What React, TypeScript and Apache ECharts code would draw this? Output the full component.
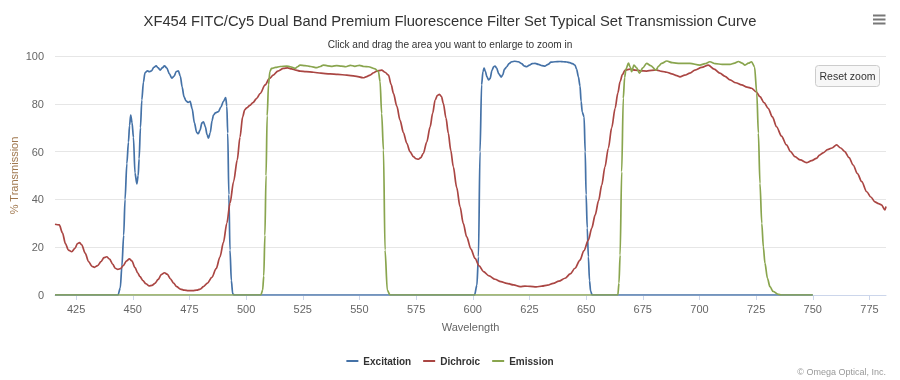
import React, { useEffect, useRef } from "react";
import * as echarts from "echarts";

const TITLE = "XF454 FITC/Cy5 Dual Band Premium Fluorescence Filter Set Typical Set Transmission Curve";
const SUBTITLE = "Click and drag the area you want to enlarge to zoom in";
const X_NAME = "Wavelength";
const Y_NAME = "% Transmission";
const CREDITS = "© Omega Optical, Inc.";
const X_TICKS = [425, 450, 475, 500, 525, 550, 575, 600, 625, 650, 675, 700, 725, 750, 775];
const SERIES_NAMES = ["Excitation", "Dichroic", "Emission"];

const excitation: number[][] = [
  [415.7, 0], [443.5, 0], [444.5, 3], [445.2, 12], [446, 25], [446.6, 40], [447.4, 55], [448.1, 64], [448.6, 71], [449.1, 75.3],
  [449.7, 72], [450.3, 66], [451, 51], [451.8, 46.5], [452.4, 50], [452.8, 57], [453.4, 70], [454, 81.6], [454.7, 89], [455.4, 93],
  [456.5, 93.8], [457.3, 93.4], [458.3, 93.8], [459.3, 95.3], [460.3, 95.9], [461.2, 95], [462.1, 94.1], [463, 95], [464, 95.9], [465, 95],
  [466.2, 92.5], [467.2, 90.7], [468.2, 91.5], [469.2, 93.5], [470.1, 93.8], [471, 91.5], [471.8, 87], [472.6, 83], [473.5, 81.2], [474.4, 80.6],
  [475.3, 81], [476.2, 78], [477.2, 72], [478.2, 68], [478.9, 67.5], [479.7, 69], [480.5, 72], [481.2, 72.5], [482, 70.5], [482.8, 67],
  [483.4, 65.6], [484.2, 68], [485, 73], [485.6, 75.3], [486.5, 76.2], [487.8, 76.7], [488.8, 78.5], [490, 81], [491, 82.6], [491.5, 79],
  [491.9, 67.7], [492.4, 42], [492.9, 18.8], [493.5, 6], [494.1, 0.5], [494.8, 0],
  [600.8, 0], [601.8, 4], [602.5, 16], [603.2, 60], [603.9, 88], [604.5, 93.5], [605, 94.9], [605.6, 93.5], [606.2, 91.4], [607, 90],
  [607.6, 90.5], [608.5, 94], [609.2, 95.5], [609.8, 95.8], [610.5, 95], [611.5, 92.5], [612.5, 91.2], [613.2, 92], [614, 94.5], [615, 95.5],
  [616, 96.8], [617.2, 97.6], [618.5, 97.8], [620.1, 97.6], [621.5, 96.8], [622.8, 95.8], [623.8, 95.5], [625, 96.2], [626.2, 96.8], [627.5, 96.9],
  [629, 96.5], [630.5, 96], [631.9, 95.8], [633.2, 96.5], [634.5, 97.4], [636.3, 97.6], [638.5, 97.7], [640, 97.6], [641.5, 97.5], [642.8, 97.2],
  [644, 96.8], [645.1, 96.2], [645.8, 94.5], [646.6, 91.3], [647.3, 87.5], [647.8, 81], [648.3, 76.5], [649.1, 74.6], [649.6, 60], [650, 42],
  [650.5, 28], [651, 16], [651.5, 6], [652, 1.5], [652.7, 0], [750, 0],
];

const dichroic: number[][] = [
  [415.7, 29.6], [417.6, 29.3], [419, 26], [420.3, 21.5], [421.6, 18.8], [423.1, 18.1], [424.5, 19.5], [425.6, 21.5], [426.5, 21.9], [427.5, 21],
  [429, 17.5], [430.5, 14], [432, 12], [433.1, 11.6], [434.5, 12.3], [436, 14], [437.3, 15.6], [438.5, 16], [439.8, 15], [441.2, 12.8],
  [442.3, 11.2], [443.4, 10.7], [444.6, 11], [445.8, 12.3], [447.3, 14.3], [448.5, 15.1], [449.6, 14.3], [451, 11.5], [452.2, 9.2], [453.2, 7.7],
  [454.5, 6], [455.8, 4.7], [457.3, 3.8], [458.5, 4], [459.8, 4.9], [461.2, 6.5], [462.6, 8.5], [464, 9.3], [465.2, 8.7], [466.6, 6.8],
  [468, 5], [469.4, 3.5], [471, 2.5], [472.8, 2], [474.5, 1.8], [476.5, 1.8], [478.2, 2], [479.8, 2.5], [481.2, 3.5], [483, 5],
  [484.9, 7.4], [486.8, 11], [488.5, 16], [490, 22], [491.5, 30], [492.9, 38.4], [494.5, 47.5], [496.1, 56.5], [497.3, 66], [498.5, 74.6],
  [499.4, 77.5], [500.3, 78.3], [501.7, 79.3], [503, 80.5], [504.7, 82.3], [506.2, 84.3], [508.4, 87.9], [510.2, 90.5], [512, 92], [514, 93.7],
  [516.5, 94.8], [518.3, 95], [520.1, 94.6], [522, 94.1], [523.8, 93.7], [526.5, 93.5], [529.7, 93.2], [533, 92.8], [537, 92.5], [540.5, 92.3],
  [544.4, 92], [548, 91.6], [551.7, 90.9], [553.2, 91.4], [554.7, 92], [556.3, 93], [557.6, 93.7], [559.8, 94.1], [561.3, 93.2], [562.8, 92],
  [564, 88], [565, 84.4], [566.5, 79], [567.9, 73.2], [569.4, 68], [570.9, 63.5], [572.3, 60], [573.8, 57.9], [575, 57], [576, 56.8],
  [577.1, 57.5], [578.2, 59.3], [579.7, 64], [581.2, 70.4], [582.3, 76], [583.4, 81.6], [584.4, 83.5], [585.3, 84], [586.2, 83], [587, 80.2],
  [588.2, 74], [589.2, 67.7], [590.3, 60.5], [591.4, 53.7], [592.9, 45], [594.4, 36.9], [595.8, 30], [597.3, 24.4], [599.2, 19.2], [601, 15.3],
  [602.8, 12.2], [604.7, 9.8], [607.2, 8], [609.8, 6.6], [612.4, 5.6], [615, 4.9], [618, 4.2], [620.9, 3.5], [623, 3.7], [625.3, 3.6],
  [628, 3.4], [630.5, 3.7], [633, 4.1], [635.5, 4.9], [638, 5.8], [640.7, 7], [643, 8.8], [645.1, 11.2], [647.3, 14.6], [649, 18.5],
  [651, 23], [652.5, 28], [654, 33.5], [655.5, 39.5], [656.9, 46], [658.3, 53.5], [659.8, 61.4], [661.3, 70], [662.8, 78.1], [664, 84.5],
  [665, 89.3], [666, 92.2], [667.2, 94.1], [669.4, 94.5], [671.6, 94.1], [674, 93.8], [676.7, 93.7], [679, 94], [681.2, 94.1], [683.4, 93.6],
  [685.6, 93.2], [687.8, 92.5], [690, 91.8], [691.4, 91.3], [693.5, 92], [695.8, 92.8], [698, 94.1], [701, 95.2], [703.9, 96.2], [706.5, 94.5],
  [709, 92.8], [711.3, 91.5], [713.5, 90], [716, 88.8], [718.6, 87.9], [721, 87], [723, 86.5], [725, 85], [726.7, 83], [728.5, 80.5],
  [730.3, 78.1], [732.2, 74.5], [734, 70.4], [736.2, 66.5], [738.4, 62.8], [740.2, 60], [742.1, 57.9], [744.5, 56.5], [747.2, 55.4], [749.5, 56.2],
  [751.6, 57.2], [753, 58.5], [754.6, 59.5], [756.5, 60.8], [758.5, 61.5], [760.5, 62.8], [762.3, 61.5], [764.1, 60], [766, 57.5], [767.8, 54.4],
  [769.7, 50.8], [771.6, 47.4], [773.8, 43.2], [775.6, 41], [777.4, 39], [779, 38.2], [780.3, 37.7], [781.8, 35.6], [782.3, 37],
];

const emission: number[][] = [
  [415.7, 0], [506.5, 0], [507.3, 2], [507.8, 8], [508.3, 25], [508.8, 50], [509.3, 75], [509.9, 88], [510.5, 93.5], [511.2, 94.8],
  [513, 95.2], [515, 95.6], [517.9, 95.8], [519.5, 95.5], [521.6, 94.8], [522.7, 95.5], [523.8, 96.2], [526, 96], [528.5, 95.6], [531.2, 95.1],
  [532.7, 95.6], [534.1, 96.2], [536, 95.9], [538, 95.7], [540, 96], [542, 95.8], [544, 95.5], [546, 96.1], [548, 95.7], [550, 96.1],
  [552, 95.6], [554, 95.5], [556.9, 94.6], [558.4, 93.5], [559.1, 89.3], [559.8, 76], [560.6, 60.7], [561.3, 18.8], [562.3, 2], [563.5, 0],
  [664, 0], [664.5, 5], [665, 16.7], [665.7, 51.6], [666.4, 82.3], [667, 91], [667.6, 94.6], [668.7, 97], [669.4, 95.5], [670.1, 93.4],
  [671.1, 96.2], [672.3, 95], [673.5, 92.8], [675, 95], [676.7, 96.9], [678.5, 96], [680.8, 94.1], [682, 95.8], [683.3, 96.9], [685.6, 97.9],
  [688, 97.2], [691.4, 96.9], [695.8, 96.9], [700.2, 96.2], [702.5, 96.8], [704.6, 97.6], [707, 96.8], [710, 96.5], [713.5, 96.5], [715.5, 97],
  [717.2, 97.7], [718.8, 97], [720.1, 96.2], [721.6, 97], [723, 97.6], [724.3, 95.5], [725.3, 84.4], [726, 67.7], [726.7, 46.7], [727.5, 30],
  [728.2, 20], [728.9, 13.3], [730, 7], [731.1, 3.5], [732.5, 1.5], [734.8, 0.3], [736, 0], [750, 0],
];

const COLORS = ["#4572A7", "#AA4643", "#89A54E"];
const FONT = "'Liberation Sans', Arial, sans-serif";

export default function App() {
  const ref = useRef<HTMLDivElement>(null);
  useEffect(() => {
    if (!ref.current) return;
    const chart = echarts.init(ref.current, null, { renderer: "svg" });
    const datasets = [excitation, dichroic, emission];
    const option: any = {
      animation: false,
      textStyle: { fontFamily: FONT },
      title: [
        {
          text: TITLE,
          left: "center",
          top: 8,
          textStyle: { fontFamily: FONT, fontSize: 14.75, fontWeight: "normal", color: "#333333" },
        },
        {
          text: SUBTITLE,
          left: "center",
          top: 34,
          textStyle: { fontFamily: FONT, fontSize: 10.1, fontWeight: "normal", color: "#333333" },
        },
      ],
      grid: { left: 55, right: 14, top: 56, bottom: 85, containLabel: false, outerBoundsMode: "none" },
      xAxis: {
        type: "value",
        min: 415.7,
        max: 782.3,
        name: X_NAME,
        nameLocation: "middle",
        nameGap: 26,
        nameTextStyle: { color: "#666666", fontSize: 11, fontFamily: FONT },
        axisLine: { show: true, lineStyle: { color: "#ccd6eb", width: 1 } },
        axisTick: { show: true, length: 5, lineStyle: { color: "#ccd6eb" }, customValues: X_TICKS },
        axisLabel: { color: "#666666", fontSize: 11, margin: 8, fontFamily: FONT, customValues: X_TICKS },
        splitLine: { show: false },
      },
      yAxis: {
        type: "value",
        min: 0,
        max: 100,
        interval: 20,
        name: Y_NAME,
        nameLocation: "middle",
        nameGap: 36,
        nameMoveOverlap: false,
        nameTextStyle: { color: "#a0784f", fontSize: 11, fontFamily: FONT },
        axisLine: { show: false },
        axisTick: { show: false },
        axisLabel: { color: "#666666", fontSize: 11, margin: 11, fontFamily: FONT },
        splitLine: { lineStyle: { color: "#e6e6e6", width: 1 } },
      },
      legend: {
        data: SERIES_NAMES,
        left: "center",
        top: 351,
        icon: "rect",
        itemWidth: 12,
        itemHeight: 2,
        itemGap: 12,
        textStyle: { fontWeight: "bold", fontSize: 10, color: "#333333", fontFamily: FONT },
      },
      series: SERIES_NAMES.map((name, i) => ({
        name,
        type: "line",
        data: datasets[i],
        showSymbol: false,
        symbol: "none",
        smooth: 0.3,
        smoothMonotone: "x",
        color: COLORS[i],
        lineStyle: { width: 1.7, color: COLORS[i] },
      })),
      graphic: [
        { type: "rect", shape: { x: 873, y: 14.5, width: 12.5, height: 2 }, style: { fill: "#777777" } },
        { type: "rect", shape: { x: 873, y: 18.5, width: 12.5, height: 2 }, style: { fill: "#777777" } },
        { type: "rect", shape: { x: 873, y: 22.5, width: 12.5, height: 2 }, style: { fill: "#777777" } },
        {
          type: "rect",
          shape: { x: 815.5, y: 65.5, width: 64, height: 21, r: 3 },
          style: { fill: "#f7f7f7", stroke: "#cccccc", lineWidth: 1 },
        },
        {
          type: "text",
          x: 847.5,
          y: 76,
          style: { text: "Reset zoom", fontSize: 10.5, fill: "#333333", align: "center", verticalAlign: "middle", fontFamily: FONT },
        },
        {
          type: "text",
          x: 886,
          y: 372,
          style: { text: CREDITS, fontSize: 9, fill: "#999999", align: "right", verticalAlign: "middle", fontFamily: FONT },
        },
      ],
    };
    chart.setOption(option);
    return () => chart.dispose();
  }, []);
  return <div ref={ref} style={{ width: 900, height: 380, position: "fixed", left: 0, top: 0 }} />;
}
